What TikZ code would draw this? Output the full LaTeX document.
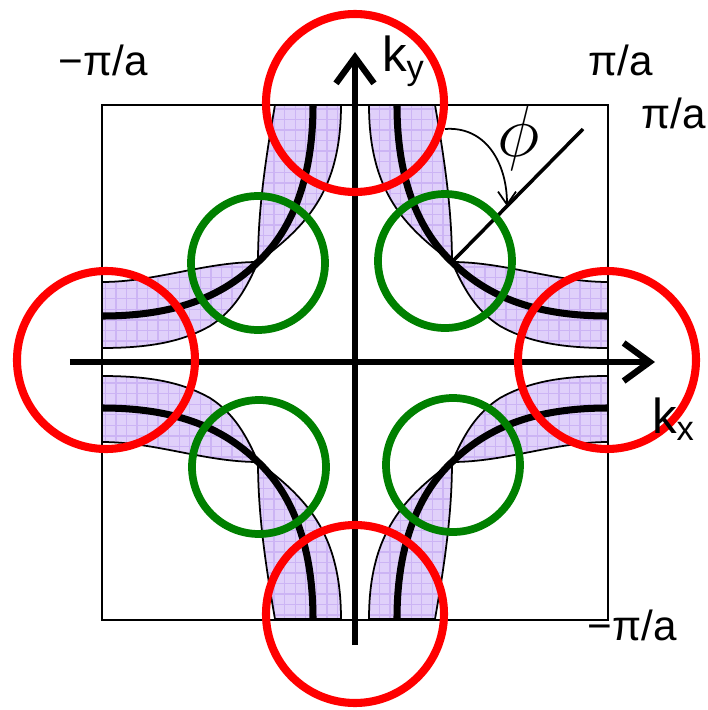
\documentclass[tikz,border=0pt]{standalone}
\usepackage{fontspec}
\setmainfont{Liberation Sans}
\usetikzlibrary{arrows.meta,patterns,calc}
\definecolor{bandfill}{RGB}{224,208,250}
\definecolor{bandgrid}{RGB}{204,180,244}
\definecolor{hotred}{RGB}{255,0,0}
\definecolor{nodegreen}{RGB}{0,128,0}
\tikzset{
  band/.style={draw=black,line width=0.5pt,preaction={fill=bandfill},pattern=grid,pattern color=bandgrid},
  fsurf/.style={line width=2pt},
  hot/.style={draw=hotred,line width=2.3pt},
  cold/.style={draw=nodegreen,line width=2.2pt},
  axis/.style={line width=1.8pt},
  lbl/.style={font=\fontsize{12}{14}\selectfont},
  klbl/.style={font=\fontsize{14}{16}\selectfont,anchor=base west,inner sep=0pt},
}
\begin{document}
\begin{tikzpicture}[>={Straight Barb[length=2.6mm,width=3.8mm]},line width=0.6pt]
  \useasboundingbox (-3.55,-3.48) rectangle (3.53,3.62);

  % zone boundary
  \draw (-2.53,-2.58) rectangle (2.53,2.57);

  % bands and Fermi surface, one quadrant reflected
  \foreach \sx/\sy in {1/1,-1/1,1/-1,-1/-1}{
    \begin{scope}[xscale=\sx,yscale=\sy]
      \draw[band] (0.14,2.57) -- (0.80,2.57)
        .. controls (0.90,2.0) and (0.97,1.5) .. (0.97,1.0)
        .. controls (1.5,1.0) and (2.0,0.80) .. (2.53,0.80)
        -- (2.53,0.14)
        .. controls (2.0,0.14) and (1.7,0.22) .. (1.45,0.36)
        .. controls (1.2,0.52) and (1.08,0.75) .. (0.97,1.0)
        .. controls (0.5,1.35) and (0.14,1.7) .. (0.14,2.57) -- cycle;
      \draw[fsurf] (0.42,2.57) .. controls (0.42,1.8) and (0.65,1.3) .. (0.97,1.0)
        .. controls (1.3,0.68) and (1.75,0.46) .. (2.53,0.46);
    \end{scope}
  }

  % axes
  \coordinate (xl) at (-2.85,0);
  \coordinate (xr) at (3.0,0);
  \coordinate (yb) at (0,-2.83);
  \coordinate (yt) at (0,3.10);
  \draw[axis,->] (xl) -- (xr);
  \draw[axis,->] (yb) -- (yt);

  % angle phi
  \coordinate (P) at (0.97,1.0);
  \coordinate (D) at (2.28,2.33);
  \coordinate (A0) at (0.90,2.33);
  \coordinate (A1) at ($(P)!0.42!(D)$);
  \draw[line width=1pt] (P) -- (D);
  \draw[line width=0.5pt,-{Straight Barb[length=1.3mm,width=1.8mm]}]
    (A0) .. controls (1.30,2.36) and (1.52,2.0) .. (A1);
  \node (phi) at (1.64,2.24) {\fontsize{22}{24}\selectfont$\phi$};

  % hot spots and nodes
  \draw[hot] (0,2.59) circle (0.89);
  \draw[hot] (0,-2.52) circle (0.89);
  \draw[hot] (-2.49,0.02) circle (0.89);
  \draw[hot] (2.52,0.02) circle (0.89);
  \draw[cold] (-0.97,0.99) circle (0.67);
  \draw[cold] (0.90,1.01) circle (0.67);
  \draw[cold] (-0.96,-1.05) circle (0.67);
  \draw[cold] (0.98,-1.03) circle (0.67);

  % labels
  \node[lbl] (mpa) at (-2.52,3.02) {−π/a};
  \node[lbl] (pa) at (2.66,3.02) {π/a};
  \node[lbl] (pb) at (3.19,2.49) {π/a};
  \node[lbl] (mpb) at (2.77,-2.63) {−π/a};
  \node[klbl] (ky) at (0.26,2.90) {k\textsubscript{y}};
  \node[klbl] (kx) at (2.96,-0.71) {k\textsubscript{x}};
\end{tikzpicture}
\end{document}
